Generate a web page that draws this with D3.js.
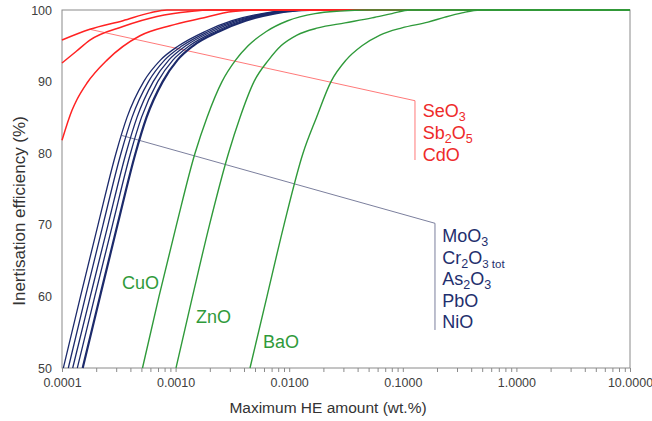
<!DOCTYPE html>
<html><head><meta charset="utf-8">
<script src="https://cdn.jsdelivr.net/npm/d3@7"></script>
<style>body{margin:0;background:#fff}svg{display:block}text{font-family:"Liberation Sans",Arial,sans-serif}</style>
</head><body><svg id="c" width="652" height="421"></svg>
<script>
// ---- data (x in wt.%, y in %) ----
const blueY  = [50,60,70,80,85,90,93,95,97,98.5,99.5,100];
const moo3X  = [1.027e-4,1.455e-4,2.075e-4,2.988e-4,3.734e-4,5.239e-4,7.349e-4,1.063e-3,1.815e-3,3.137e-3,5.762e-3,1.245e-2];
const cr2o3X = [1.136e-4,1.610e-4,2.296e-4,3.307e-4,4.132e-4,5.773e-4,8.0e-4,1.143e-3,1.948e-3,3.361e-3,6.124e-3,1.323e-2];
const as2o3X = [1.242e-4,1.775e-4,2.541e-4,3.659e-4,4.573e-4,6.351e-4,8.71e-4,1.23e-3,2.091e-3,3.600e-3,6.508e-3,1.378e-2];
const pboX   = [1.364e-4,1.944e-4,2.783e-4,4.009e-4,5.01e-4,6.957e-4,9.468e-4,1.323e-3,2.245e-3,3.857e-3,6.915e-3,1.434e-2];
const nioX   = [1.521e-4,2.160e-4,3.08e-4,4.436e-4,5.544e-4,7.70e-4,1.037e-3,1.426e-3,2.41e-3,4.132e-3,7.349e-3,1.524e-2];

const seo3X  = [1e-4,1.76e-4,3.44e-4,5.95e-4,8.4e-4];
const seo3Y  = [95.8,97.3,98.5,99.6,100];
const sb2o5X = [1e-4,1.33e-4,1.76e-4,3.44e-4,6.86e-4,1.34e-3,2.0e-3];
const sb2o5Y = [92.6,94.2,95.8,97.7,99.1,99.8,100];
const cdoX   = [1e-4,1.225e-4,1.355e-4,1.66e-4,2.49e-4,4.86e-4,8.93e-4,1.64e-3,3.20e-3,5.53e-3];
const cdoY   = [81.8,86.0,87.5,89.8,93.0,96.4,97.8,98.8,99.8,100];

const cuoX = [5.112e-4,7.143e-4,1.018e-3,1.482e-3,1.89e-3,2.561e-3,3.374e-3,4.347e-3,6.287e-3,9.701e-3,1.687e-2,2.800e-2,4.94e-2];
const cuoY = [50,60,70,80,85,90,93,95,97,98.5,99.5,99.85,100];
const znoX = [1.008e-3,1.409e-3,1.988e-3,2.922e-3,3.689e-3,4.90e-3,6.574e-3,8.469e-3,1.171e-2,1.793e-2,3.099e-2,5.356e-2,8.034e-2,0.1157];
const znoY = [50,60,70,80,85,90,93,95,96.5,97.5,98.2,98.9,99.5,100];
const baoX = [4.518e-3,6.376e-3,9.0e-3,1.323e-2,1.739e-2,2.333e-2,3.162e-2,4.374e-2,6.30e-2,9.839e-2,0.1667,0.2352,0.332,0.4782];
const baoY = [50,60,70,80,85,90,93,95,96.5,97.5,98.3,99,99.6,100];

const xEnd = 10, yTop = 100;
const xTickLabels = ["0.0001","0.0010","0.0100","0.1000","1.0000","10.0000"];
const yTicks = [50,60,70,80,90,100];

const redLeader  = [[1.76e-4,97.3],[0.128,87.33],[0.128,79.05]];
const blueLeader = [[3.374e-4,82.47],[0.192,70.21],[0.192,55.31]];
const redLabelX = 0.1497, redLabelY = [85.06,81.98,78.98];
const blueLabelX = 0.2227, blueLabelY = [67.64,64.48,61.59,58.56,55.55];
const redNames  = [[["Se",0],["O",0],["3",1]],[["Sb",0],["2",1],["O",0],["5",1]],[["CdO",0]]];
const blueNames = [[["MoO",0],["3",1]],[["Cr",0],["2",1],["O",0],["3 tot",2]],[["As",0],["2",1],["O",0],["3",1]],[["PbO",0]],[["NiO",0]]];
const greenNames = ["CuO","ZnO","BaO"];
const greenLabelPos = [[3.374e-4,61.03],[1.512e-3,56.24],[5.88e-3,52.84]];

// ---- chart ----
const W = 652, H = 421, m = {l:62, r:22, t:10, b:53};
const svg = d3.select("#c");
const x = d3.scaleLog().domain([1e-4, 10]).range([m.l, W - m.r]);
const y = d3.scaleLinear().domain([50, 100]).range([H - m.b, m.t]);
const RED = "#ff2222", BLUE = "#1c2a6b", GREEN = "#2f9a3a";

svg.append("rect").attr("x", m.l).attr("y", m.t)
  .attr("width", x.range()[1] - m.l).attr("height", y.range()[0] - m.t)
  .attr("fill", "none").attr("stroke", "#8a8a8a").attr("stroke-width", 1);

const ticks = [];
for (let e = -4; e <= 1; e++) for (let k = 1; k <= 9; k++) { const v = k * Math.pow(10, e); if (v <= 10.0001) ticks.push(v); }
const xa = svg.append("g").attr("transform", `translate(0,${y(50)})`)
  .call(d3.axisBottom(x).tickValues(ticks).tickSize(4).tickPadding(6)
    .tickFormat(d => { const l = Math.log10(d); return Math.abs(l - Math.round(l)) < 1e-9 ? xTickLabels[Math.round(l) + 4] : ""; }));
xa.select(".domain").remove();
xa.selectAll("line").attr("stroke", "#8a8a8a");
xa.selectAll("text").attr("font-size", 12.5).attr("fill", "#404040").style("font-family", '"Liberation Sans",Arial,sans-serif');

const ya = svg.append("g").attr("transform", `translate(${m.l},0)`)
  .call(d3.axisLeft(y).tickValues(yTicks).tickSize(0).tickPadding(10));
ya.select(".domain").remove();
ya.selectAll("text").attr("font-size", 12.5).attr("fill", "#404040").style("font-family", '"Liberation Sans",Arial,sans-serif');

svg.append("text").attr("x", 328).attr("y", 413).attr("text-anchor", "middle")
  .attr("font-size", 15.5).attr("fill", "#333").text("Maximum HE amount (wt.%)");
svg.append("text").attr("transform", `translate(24.5,211) rotate(-90)`).attr("text-anchor", "middle")
  .attr("font-size", 17).attr("fill", "#333").text("Inertisation efficiency (%)");

const line = d3.line().x(d => x(d[0])).y(d => y(d[1])).curve(d3.curveMonotoneX);
const pts = (xs, ys) => xs.map((v, i) => [v, ys[i]]).concat([[xEnd, yTop]]);

// leaders
const straight = d3.line().x(d => x(d[0])).y(d => y(d[1]));
svg.append("path").attr("d", straight(redLeader)).attr("fill", "none").attr("stroke", "#ff6a6a").attr("stroke-width", 0.9);
svg.append("path").attr("d", straight(blueLeader)).attr("fill", "none").attr("stroke", "#6c7092").attr("stroke-width", 0.9);

// blue curves
[[moo3X,1.3],[cr2o3X,1.3],[as2o3X,1.3],[pboX,1.3],[nioX,2.2]].forEach(([xs, w]) => {
  svg.append("path").attr("d", line(pts(xs, blueY))).attr("fill", "none").attr("stroke", BLUE).attr("stroke-width", w);
});
// red curves
[[seo3X,seo3Y],[sb2o5X,sb2o5Y],[cdoX,cdoY]].forEach(([xs, ys]) => {
  svg.append("path").attr("d", line(pts(xs, ys))).attr("fill", "none").attr("stroke", RED).attr("stroke-width", 1.5);
});
// green curves
[[cuoX,cuoY],[znoX,znoY],[baoX,baoY]].forEach(([xs, ys]) => {
  svg.append("path").attr("d", line(pts(xs, ys))).attr("fill", "none").attr("stroke", GREEN).attr("stroke-width", 1.4);
});

function chem(px, py, parts, color) {
  const t = svg.append("text").attr("x", px).attr("y", py).attr("font-size", 18).attr("fill", color);
  let sub = false;
  parts.forEach(([s, k]) => {
    const ts = t.append("tspan").text(s);
    if (k && !sub) { ts.attr("dy", 4); sub = true; }
    else if (!k && sub) { ts.attr("dy", -4); sub = false; }
    if (k === 1) ts.attr("font-size", 12.5);
    if (k === 2) ts.attr("font-size", 11.5);
  });
}
redNames.forEach((p, i) => chem(x(redLabelX), y(redLabelY[i]), p, "#ee2a2a"));
blueNames.forEach((p, i) => chem(x(blueLabelX), y(blueLabelY[i]), p, "#1f2f6e"));
greenNames.forEach((n, i) => chem(x(greenLabelPos[i][0]), y(greenLabelPos[i][1]), [[n,0]], GREEN));
</script></body></html>
